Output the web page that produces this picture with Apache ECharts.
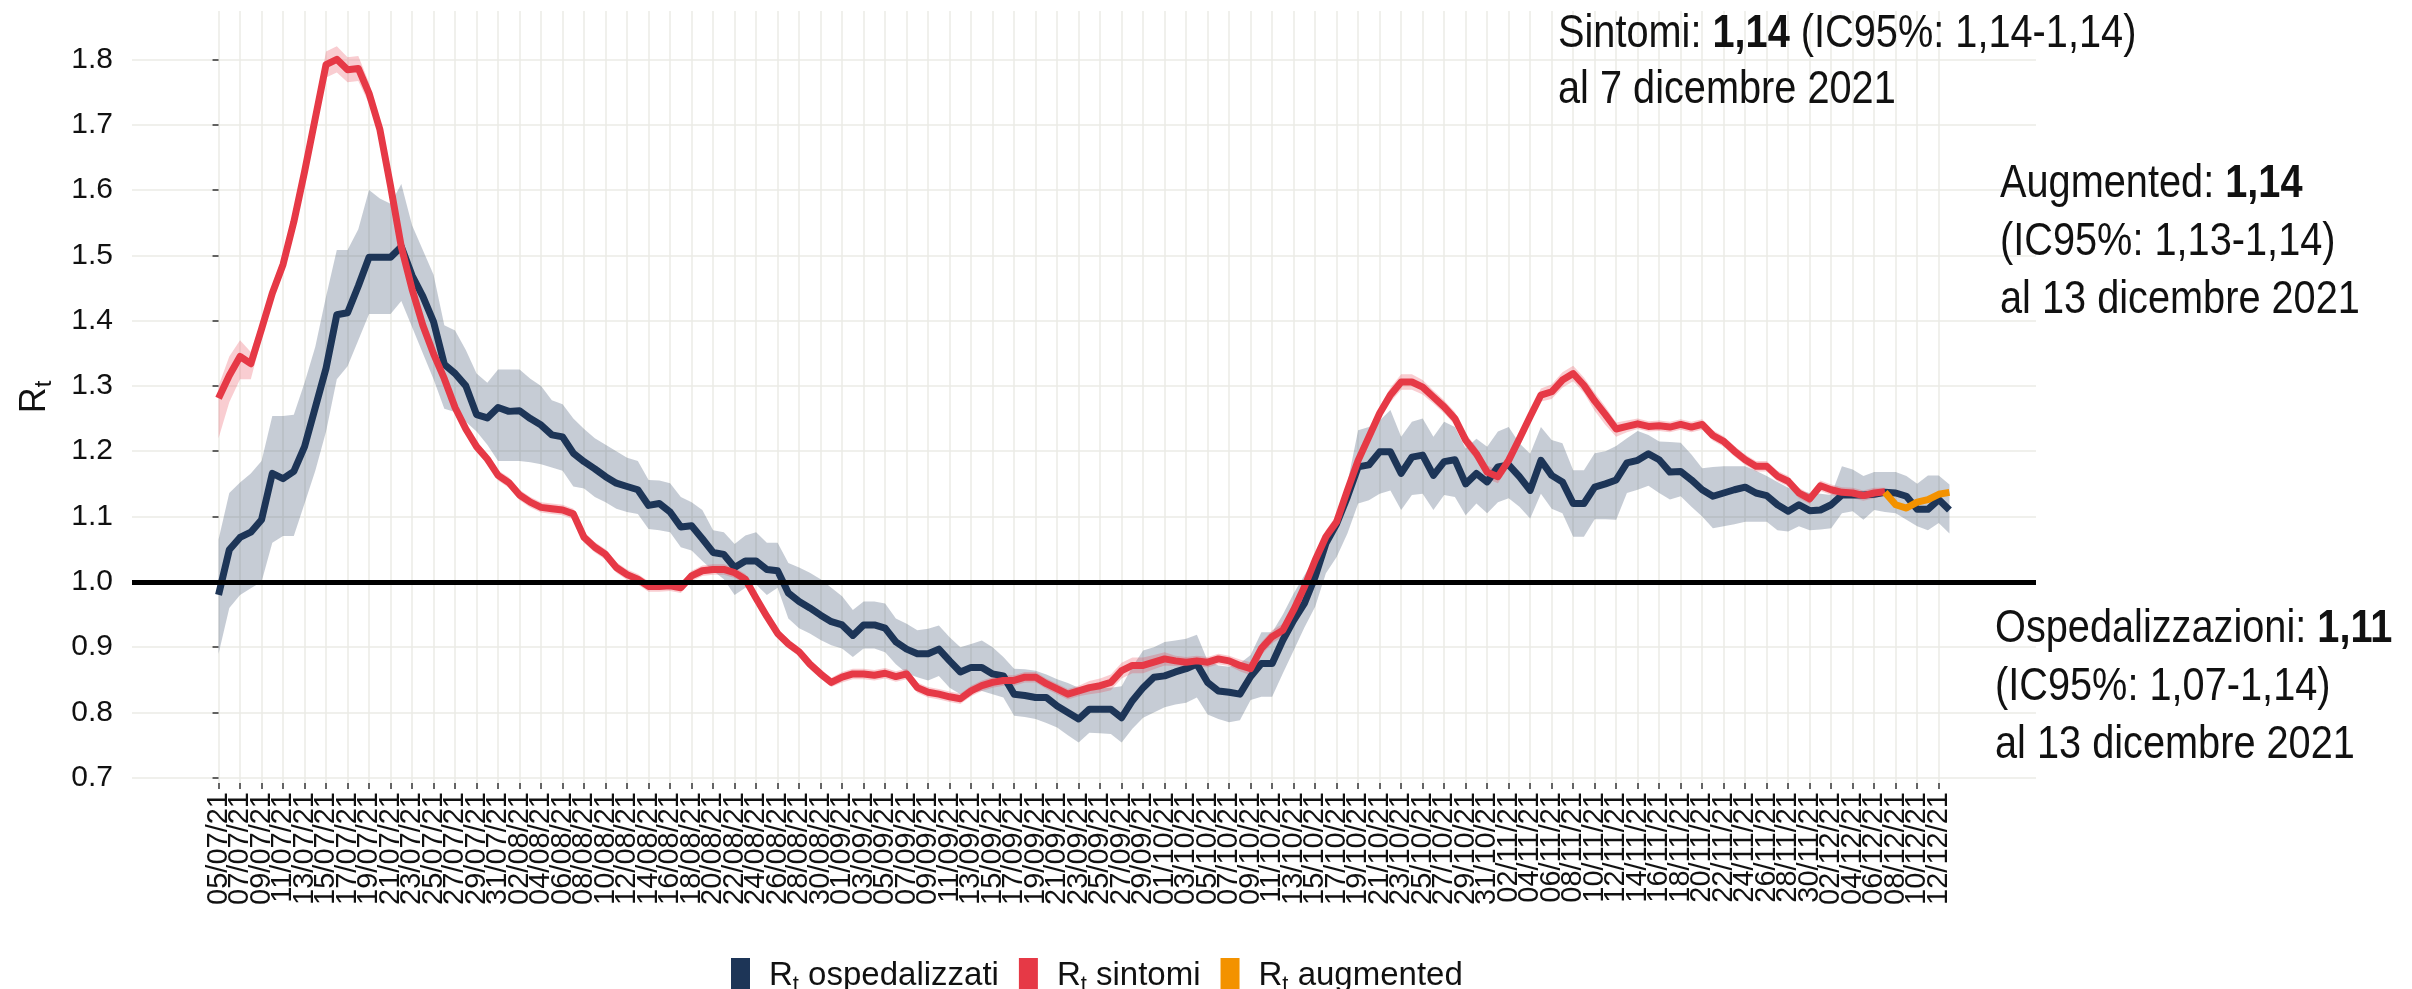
<!DOCTYPE html>
<html>
<head>
<meta charset="utf-8">
<script src="https://cdn.jsdelivr.net/npm/echarts@6/dist/echarts.min.js"></script>
<style>
html,body{margin:0;padding:0;background:#fff;}
#c{width:2412px;height:989px;}
</style>
</head>
<body>
<div id="c"></div>
<script>
// x = day index counted from 05/07/21
const tickLabels = [
 '05/07/21','07/07/21','09/07/21','11/07/21','13/07/21','15/07/21','17/07/21','19/07/21','21/07/21','23/07/21','25/07/21','27/07/21','29/07/21','31/07/21',
 '02/08/21','04/08/21','06/08/21','08/08/21','10/08/21','12/08/21','14/08/21','16/08/21','18/08/21','20/08/21','22/08/21','24/08/21','26/08/21','28/08/21','30/08/21',
 '01/09/21','03/09/21','05/09/21','07/09/21','09/09/21','11/09/21','13/09/21','15/09/21','17/09/21','19/09/21','21/09/21','23/09/21','25/09/21','27/09/21','29/09/21',
 '01/10/21','03/10/21','05/10/21','07/10/21','09/10/21','11/10/21','13/10/21','15/10/21','17/10/21','19/10/21','21/10/21','23/10/21','25/10/21','27/10/21','29/10/21','31/10/21',
 '02/11/21','04/11/21','06/11/21','08/11/21','10/11/21','12/11/21','14/11/21','16/11/21','18/11/21','20/11/21','22/11/21','24/11/21','26/11/21','28/11/21','30/11/21',
 '02/12/21','04/12/21','06/12/21','08/12/21','10/12/21','12/12/21'
];
const yTicks = [0.7,0.8,0.9,1.0,1.1,1.2,1.3,1.4,1.5,1.6,1.7,1.8];

const ospValues = [
 0.98,1.049,1.068,1.076,1.095,1.166,1.158,1.169,1.207,1.267,
 1.327,1.409,1.412,1.453,1.497,1.497,1.497,1.513,1.469,1.437,
 1.398,1.333,1.319,1.30,1.256,1.251,1.267,1.261,1.262,1.250,
 1.240,1.225,1.222,1.197,1.184,1.173,1.161,1.151,1.146,1.141,
 1.117,1.12,1.107,1.084,1.086,1.066,1.045,1.042,1.022,1.032,
 1.032,1.019,1.017,0.983,0.970,0.960,0.949,0.939,0.934,0.918,
 0.934,0.934,0.929,0.908,0.897,0.89,0.89,0.897,0.879,0.862,
 0.869,0.869,0.859,0.856,0.828,0.826,0.823,0.823,0.81,0.80,
 0.79,0.805,0.805,0.805,0.792,0.818,0.838,0.854,0.856,0.862,
 0.867,0.874,0.846,0.833,0.831,0.828,0.855,0.875,0.875,0.911,
 0.941,0.967,1.008,1.059,1.089,1.13,1.176,1.179,1.199,1.199,
 1.166,1.191,1.194,1.163,1.184,1.187,1.15,1.166,1.153,1.176,
 1.179,1.161,1.14,1.186,1.163,1.153,1.12,1.12,1.145,1.15,
 1.156,1.182,1.186,1.196,1.187,1.168,1.169,1.156,1.141,1.131,
 1.136,1.141,1.145,1.136,1.132,1.118,1.108,1.118,1.109,1.11,
 1.118,1.133,1.133,1.133,1.134,1.137,1.136,1.131,1.111,1.111,
 1.126,1.11
];
const ospLow = [
 0.89,0.96,0.98,0.99,1.00,1.06,1.07,1.07,1.12,1.17,
 1.23,1.31,1.33,1.37,1.41,1.41,1.41,1.43,1.39,1.35,
 1.31,1.265,1.26,1.245,1.23,1.21,1.185,1.185,1.185,1.183,
 1.18,1.175,1.17,1.146,1.143,1.13,1.122,1.112,1.107,1.104,
 1.081,1.079,1.076,1.053,1.048,1.032,1.017,1.004,0.98,0.991,
 0.996,0.98,0.991,0.944,0.929,0.921,0.911,0.903,0.898,0.885,
 0.898,0.898,0.892,0.874,0.86,0.854,0.849,0.856,0.838,0.828,
 0.83,0.833,0.828,0.823,0.795,0.793,0.79,0.784,0.777,0.765,
 0.754,0.769,0.768,0.767,0.754,0.775,0.792,0.80,0.808,0.812,
 0.815,0.823,0.797,0.79,0.785,0.788,0.819,0.824,0.824,0.86,
 0.895,0.93,0.962,1.013,1.038,1.074,1.12,1.125,1.135,1.14,
 1.11,1.133,1.135,1.11,1.133,1.13,1.102,1.12,1.105,1.122,
 1.128,1.115,1.097,1.135,1.112,1.105,1.069,1.069,1.096,1.096,
 1.095,1.136,1.141,1.147,1.136,1.126,1.131,1.115,1.1,1.082,
 1.085,1.088,1.092,1.092,1.092,1.079,1.077,1.085,1.079,1.08,
 1.082,1.105,1.108,1.095,1.11,1.107,1.105,1.095,1.085,1.079,
 1.09,1.074
];
const ospHigh = [
 1.065,1.136,1.152,1.166,1.185,1.254,1.254,1.256,1.305,1.36,
 1.437,1.508,1.508,1.54,1.60,1.587,1.579,1.609,1.546,1.508,
 1.47,1.393,1.385,1.355,1.319,1.305,1.325,1.325,1.325,1.311,
 1.30,1.278,1.272,1.25,1.234,1.22,1.21,1.2,1.19,1.185,
 1.156,1.155,1.151,1.13,1.122,1.11,1.079,1.076,1.058,1.071,
 1.076,1.06,1.06,1.029,1.022,1.014,1.004,0.991,0.978,0.957,
 0.97,0.97,0.967,0.944,0.936,0.926,0.928,0.933,0.915,0.9,
 0.905,0.91,0.9,0.885,0.867,0.866,0.864,0.858,0.851,0.845,
 0.838,0.838,0.838,0.838,0.84,0.87,0.895,0.9,0.908,0.91,
 0.913,0.919,0.879,0.872,0.87,0.875,0.888,0.923,0.923,0.95,
 0.982,1.01,1.038,1.074,1.099,1.151,1.232,1.237,1.247,1.263,
 1.222,1.245,1.25,1.222,1.245,1.237,1.204,1.219,1.207,1.23,
 1.237,1.212,1.196,1.237,1.217,1.212,1.171,1.171,1.197,1.2,
 1.208,1.22,1.231,1.225,1.215,1.214,1.213,1.195,1.174,1.176,
 1.177,1.177,1.177,1.17,1.162,1.153,1.144,1.14,1.136,1.135,
 1.133,1.177,1.172,1.162,1.168,1.168,1.168,1.162,1.15,1.163,
 1.163,1.149
];
const sinValues = [
 1.281,1.316,1.345,1.334,1.387,1.442,1.486,1.551,1.628,1.71,
 1.792,1.80,1.784,1.786,1.748,1.693,1.606,1.513,1.448,1.393,
 1.349,1.311,1.267,1.234,1.207,1.188,1.163,1.152,1.133,1.122,
 1.114,1.112,1.11,1.104,1.068,1.053,1.042,1.022,1.011,1.004,
 0.993,0.993,0.994,0.991,1.009,1.017,1.019,1.019,1.014,1.004,
 0.975,0.947,0.921,0.905,0.893,0.874,0.859,0.846,0.854,0.859,
 0.859,0.857,0.86,0.855,0.859,0.838,0.831,0.828,0.824,0.821,
 0.833,0.841,0.846,0.849,0.849,0.854,0.854,0.844,0.836,0.828,
 0.833,0.838,0.841,0.846,0.864,0.872,0.872,0.877,0.882,0.879,
 0.877,0.879,0.877,0.882,0.879,0.872,0.867,0.898,0.916,0.926,
 0.957,0.992,1.033,1.069,1.092,1.14,1.186,1.222,1.258,1.286,
 1.306,1.306,1.298,1.283,1.268,1.25,1.217,1.196,1.168,1.161,
 1.186,1.219,1.253,1.286,1.291,1.309,1.319,1.301,1.277,1.256,
 1.234,1.238,1.242,1.238,1.239,1.237,1.241,1.237,1.241,1.224,
 1.215,1.2,1.187,1.177,1.177,1.162,1.154,1.136,1.127,1.147,
 1.141,1.137,1.136,1.132,1.136,1.138
];
const sinLow = [
 1.22,1.275,1.31,1.31,1.372,1.43,1.472,1.538,1.613,1.695,
 1.772,1.78,1.765,1.767,1.732,1.68,1.594,1.502,1.438,1.384,
 1.34,1.303,1.259,1.226,1.199,1.18,1.155,1.144,1.125,1.114,
 1.106,1.104,1.102,1.096,1.06,1.045,1.034,1.014,1.003,0.996,
 0.985,0.985,0.986,0.983,1.001,1.009,1.011,1.011,1.006,0.996,
 0.968,0.94,0.914,0.898,0.886,0.867,0.852,0.839,0.846,0.851,
 0.851,0.849,0.852,0.847,0.851,0.83,0.823,0.82,0.816,0.813,
 0.825,0.833,0.838,0.841,0.841,0.846,0.846,0.836,0.828,0.82,
 0.825,0.828,0.83,0.834,0.852,0.86,0.86,0.866,0.872,0.871,
 0.869,0.871,0.869,0.874,0.871,0.863,0.857,0.888,0.906,0.916,
 0.947,0.982,1.023,1.059,1.082,1.13,1.176,1.212,1.248,1.275,
 1.294,1.294,1.287,1.273,1.258,1.24,1.207,1.186,1.158,1.151,
 1.176,1.209,1.243,1.276,1.28,1.297,1.307,1.289,1.262,1.24,
 1.222,1.229,1.234,1.23,1.231,1.229,1.233,1.229,1.233,1.216,
 1.207,1.192,1.179,1.169,1.169,1.154,1.146,1.128,1.119,1.139,
 1.133,1.129,1.128,1.124,1.128,1.132
];
const sinHigh = [
 1.30,1.345,1.37,1.352,1.40,1.455,1.50,1.566,1.643,1.725,
 1.812,1.82,1.803,1.805,1.764,1.706,1.618,1.524,1.458,1.402,
 1.358,1.319,1.275,1.242,1.215,1.196,1.171,1.16,1.141,1.13,
 1.122,1.12,1.118,1.112,1.076,1.061,1.05,1.03,1.019,1.012,
 1.001,1.001,1.002,0.999,1.017,1.025,1.027,1.027,1.022,1.012,
 0.982,0.954,0.928,0.912,0.9,0.881,0.866,0.853,0.862,0.867,
 0.867,0.865,0.868,0.863,0.867,0.846,0.839,0.836,0.832,0.829,
 0.841,0.849,0.854,0.857,0.857,0.862,0.862,0.852,0.844,0.836,
 0.841,0.848,0.852,0.858,0.876,0.884,0.884,0.888,0.892,0.887,
 0.885,0.887,0.885,0.89,0.887,0.881,0.877,0.908,0.926,0.936,
 0.967,1.002,1.043,1.079,1.102,1.15,1.196,1.232,1.268,1.297,
 1.318,1.318,1.309,1.293,1.278,1.26,1.227,1.206,1.178,1.171,
 1.196,1.229,1.263,1.296,1.302,1.321,1.331,1.313,1.29,1.268,
 1.244,1.247,1.25,1.246,1.247,1.245,1.249,1.245,1.249,1.232,
 1.223,1.208,1.195,1.185,1.185,1.17,1.162,1.144,1.135,1.155,
 1.149,1.145,1.144,1.14,1.144,1.144
];
const augFirstDay = 155; // 07/12/21
const augValues = [1.137,1.118,1.113,1.122,1.126,1.134,1.137];

const NAVY = '#1D3557', RED = '#E63946', ORANGE = '#F39200';
const FONT = '"Liberation Sans", Arial, sans-serif';
const X_MIN = -8.05, X_MAX = 169.05;

const pts = (arr, off) => arr.map((v, i) => [i + (off || 0), v]);
const bandData = (lo, hi) => lo.map((v, i) => [i, v, hi[i]]);
const tickPos = tickLabels.map((_, k) => 2 * k);
// blank label slots at both panel edges keep the first/last date labels from being auto-hidden
const labelPos = [X_MIN].concat(tickPos, [X_MAX]);

function bandSeries(name, lo, hi, fill) {
  const rows = bandData(lo, hi);
  return {
    name: name, type: 'custom', data: rows, encode: {x: 0, y: [1, 2]}, z: 1, silent: true, clip: true,
    renderItem: function (params, api) {
      if (params.dataIndex !== 0) return null;
      const top = [], bottom = [];
      for (let i = 0; i < rows.length; i++) {
        top.push(api.coord([rows[i][0], rows[i][2]]));
        bottom.push(api.coord([rows[i][0], rows[i][1]]));
      }
      return {type: 'polygon', shape: {points: top.concat(bottom.reverse())},
              style: {fill: fill, stroke: null}, silent: true};
    }
  };
}

const chart = echarts.init(document.getElementById('c'), null, {renderer: 'canvas'});
const subRich = (big, small, pad) => ({
  r: {fontSize: big, fontFamily: FONT, color: '#111', verticalAlign: 'top', lineHeight: big + 2},
  s: {fontSize: small, fontFamily: FONT, color: '#111', verticalAlign: 'top', lineHeight: small + 1, padding: [pad, 0, 0, 0]}
});
const legendNames = {'Rt ospedalizzati': ' ospedalizzati', 'Rt sintomi': ' sintomi', 'Rt augmented': ' augmented'};
const legendRich = subRich(33, 22, 14);
legendRich.r.padding = [0, 0, 0, 14];
legendRich.n = {fontSize: 33, fontFamily: FONT, color: '#111', verticalAlign: 'top', lineHeight: 35};
const annStyle = (size, lh) => ({
  n: {fontSize: size, fontFamily: FONT, fill: '#111', lineHeight: lh},
  b: {fontSize: size, fontFamily: FONT, fontWeight: 'bold', fill: '#111', lineHeight: lh}
});
const ANN_SCALE_X = 0.845;

chart.setOption({
  animation: false,
  backgroundColor: '#ffffff',
  grid: {left: 132, right: 376, top: 11, bottom: 206, outerBoundsMode: 'none', containLabel: false},
  xAxis: {
    type: 'value', min: X_MIN, max: X_MAX,
    axisLine: {show: false},
    axisTick: {show: true, length: 6, lineStyle: {color: '#333', width: 1.5}, customValues: tickPos},
    axisLabel: {
      customValues: labelPos, rotate: 90, margin: 9, fontSize: 29, lineHeight: 20, fontFamily: FONT, color: '#111',
      hideOverlap: false,
      formatter: v => (v === X_MIN || v === X_MAX) ? '' : (tickLabels[Math.round(v / 2)] || '')
    },
    splitLine: {show: true, lineStyle: {color: '#ebebe6', width: 1.5}}
  },
  yAxis: {
    type: 'value', min: 0.692, max: 1.874,
    name: '{r|R}{s|t}', nameLocation: 'middle', nameRotate: 90, nameGap: 77,
    nameTextStyle: {rich: subRich(36, 24, 15)},
    axisLine: {show: false},
    axisTick: {show: true, length: 6, lineStyle: {color: '#333', width: 1.5}, customValues: yTicks},
    axisLabel: {customValues: yTicks, margin: 19, fontSize: 30, fontFamily: FONT, color: '#111',
      showMinLabel: true, showMaxLabel: true, formatter: v => v.toFixed(1)},
    splitLine: {show: true, lineStyle: {color: '#ebebe6', width: 1.5}}
  },
  legend: {
    left: 726, top: 953, icon: 'rect', itemWidth: 19, itemHeight: 38, itemGap: 20,
    data: ['Rt ospedalizzati', 'Rt sintomi', 'Rt augmented'],
    formatter: name => '{r|R}{s|t}{n|' + legendNames[name] + '}',
    textStyle: {fontSize: 33, fontFamily: FONT, color: '#111', rich: legendRich}
  },
  series: [
    bandSeries('ospBand', ospLow, ospHigh, 'rgba(29,53,87,0.25)'),
    bandSeries('sinBand', sinLow, sinHigh, 'rgba(230,57,70,0.25)'),
    {name: 'Rt ospedalizzati', type: 'line', data: pts(ospValues), symbol: 'none', color: NAVY,
     lineStyle: {color: NAVY, width: 7, join: 'round'}, z: 2},
    {name: 'Rt sintomi', type: 'line', data: pts(sinValues), symbol: 'none', color: RED,
     lineStyle: {color: RED, width: 7, join: 'round'}, z: 2},
    {name: 'Rt augmented', type: 'line', data: pts(augValues, augFirstDay), symbol: 'none', color: ORANGE,
     lineStyle: {color: ORANGE, width: 7, join: 'round'}, z: 2},
    {name: 'soglia', type: 'line', data: [], z: 3, silent: true,
     markLine: {silent: true, symbol: ['none', 'none'], label: {show: false},
       lineStyle: {color: '#000', width: 5, type: 'solid'}, data: [{yAxis: 1.0}]}}
  ],
  graphic: [
    {type: 'text', left: 1558, top: 11, z: 10, scaleX: ANN_SCALE_X, style: {
      text: '{n|Sintomi: }{b|1,14}{n| (IC95%: 1,14-1,14)}\n{n|al 7 dicembre 2021}',
      rich: annStyle(47, 56)}},
    {type: 'text', left: 2000, top: 161, z: 10, scaleX: ANN_SCALE_X, style: {
      text: '{n|Augmented: }{b|1,14}\n{n|(IC95%: 1,13-1,14)}\n{n|al 13 dicembre 2021}',
      rich: annStyle(47, 58)}},
    {type: 'text', left: 1995, top: 606, z: 10, scaleX: ANN_SCALE_X, style: {
      text: '{n|Ospedalizzazioni: }{b|1,11}\n{n|(IC95%: 1,07-1,14)}\n{n|al 13 dicembre 2021}',
      rich: annStyle(47, 58)}}
  ]
});
</script>
</body>
</html>
